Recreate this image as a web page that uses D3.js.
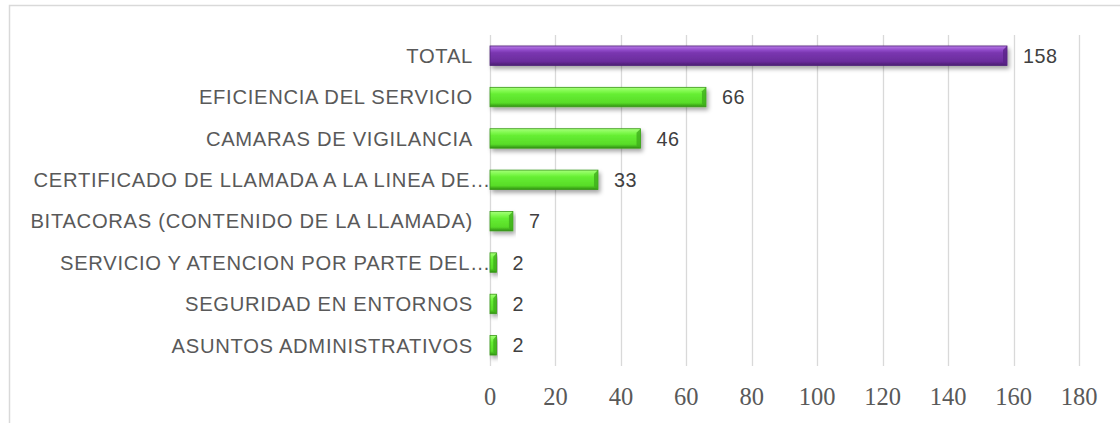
<!DOCTYPE html>
<html lang="es">
<head>
    <meta charset="UTF-8">
    <title>Quejas por tema</title>
    <script src="https://d3js.org/d3.v7.min.js"></script>
    <style>
        body { margin: 0; background: #fff; }
        .grid line { stroke: #d9d9d9; stroke-width: 1.3px; }
        .cat { font-family: "Liberation Sans", Arial, sans-serif; font-size: 20.2px; letter-spacing: 0.7px; fill: #595959; }
        .val { font-family: "Liberation Sans", Arial, sans-serif; font-size: 19.8px; letter-spacing: 0.5px; fill: #404040; }
        .tick-label { font-family: "Liberation Serif", serif; font-size: 24.5px; fill: #595959; }
    </style>
</head>
<body>
<div id="chart"></div>
<script>
// data
const categories = [
    "TOTAL",
    "EFICIENCIA DEL SERVICIO",
    "CAMARAS DE VIGILANCIA",
    "CERTIFICADO DE LLAMADA A LA LINEA DE…",
    "BITACORAS (CONTENIDO DE LA LLAMADA)",
    "SERVICIO Y ATENCION POR PARTE DEL…",
    "SEGURIDAD EN ENTORNOS",
    "ASUNTOS ADMINISTRATIVOS"
];
const values = [158, 66, 46, 33, 7, 2, 2, 2];
const xTicks = [0, 20, 40, 60, 80, 100, 120, 140, 160, 180];

const width = 1120, height = 423;
const svg = d3.select("#chart").append("svg")
    .attr("width", width)
    .attr("height", height);

const defs = svg.append("defs");

// bevel-ish gradients, one per colour
function bevel(id, stops) {
    const g = defs.append("linearGradient")
        .attr("id", id)
        .attr("x1", 0).attr("y1", 0).attr("x2", 0).attr("y2", 1);
    stops.forEach(s => g.append("stop").attr("offset", s[0]).attr("stop-color", s[1]));
}
bevel("gPurple", [[0, "#b77be6"], [0.22, "#8f48c8"], [0.35, "#7a36b0"], [0.8, "#6a2c9c"], [1, "#4a1d70"]]);
bevel("gGreen", [[0, "#a6ff7a"], [0.22, "#7cf84a"], [0.35, "#66ee33"], [0.8, "#58dc28"], [1, "#2f8f12"]]);

const shadow = defs.append("filter").attr("id", "shadow")
    .attr("x", "-5%").attr("y", "-30%").attr("width", "115%").attr("height", "190%");
shadow.append("feDropShadow")
    .attr("dx", 2).attr("dy", 3).attr("stdDeviation", 2.2)
    .attr("flood-color", "#000").attr("flood-opacity", 0.35);

// chart frame (runs off the right and bottom edges)
svg.append("rect")
    .attr("x", 9.5).attr("y", 5.5)
    .attr("width", 1300).attr("height", 600)
    .attr("fill", "none")
    .attr("stroke", "#d9d9d9")
    .attr("stroke-width", 1.5);

const x = d3.scaleLinear().domain([0, 180]).range([490, 1079]);
const y = d3.scaleBand().domain(categories).range([35, 366]).paddingInner(0.53).paddingOuter(0.265);

// vertical gridlines
svg.append("g").attr("class", "grid")
    .selectAll("line")
    .data(xTicks)
    .enter().append("line")
    .attr("x1", d => Math.round(x(d)) + 0.5)
    .attr("x2", d => Math.round(x(d)) + 0.5)
    .attr("y1", 35)
    .attr("y2", 366);

// x tick labels
svg.append("g")
    .selectAll("text")
    .data(xTicks)
    .enter().append("text")
    .attr("class", "tick-label")
    .attr("x", d => x(d))
    .attr("y", 405)
    .attr("text-anchor", "middle")
    .text(d => d);

const rows = categories.map((c, i) => ({ cat: c, val: values[i], total: i === 0 }));

// bars
const bars = svg.append("g").selectAll("g")
    .data(rows)
    .enter().append("g");

bars.append("rect")
    .attr("x", x(0))
    .attr("y", d => y(d.cat))
    .attr("width", d => x(d.val) - x(0))
    .attr("height", y.bandwidth())
    .attr("fill", d => d.total ? "url(#gPurple)" : "url(#gGreen)")
    .attr("stroke", d => d.total ? "#4e2178" : "#3a9a18")
    .attr("stroke-width", 0.8)
    .attr("filter", "url(#shadow)");

// darker end cap for the bevelled look
bars.append("path")
    .attr("d", d => {
        const x1 = x(d.val), y0 = y(d.cat), h = y.bandwidth();
        const w = Math.min(4, (x1 - x(0)) / 2);
        return `M${x1},${y0} L${x1 - w},${y0 + 4} L${x1 - w},${y0 + h - 3} L${x1},${y0 + h} Z`;
    })
    .attr("fill", d => d.total ? "#5a2388" : "#3fae1c")
    .attr("opacity", 0.8);

// value labels
bars.append("text")
    .attr("class", "val")
    .attr("x", d => x(d.val) + 16)
    .attr("y", d => y(d.cat) + y.bandwidth() / 2)
    .attr("dy", "0.36em")
    .text(d => d.val);

// category labels (Excel pushes the truncated ones up against the axis)
svg.append("g").selectAll("text")
    .data(categories)
    .enter().append("text")
    .attr("class", "cat")
    .attr("x", d => d.endsWith("…") ? 491 : 473)
    .attr("y", d => y(d) + y.bandwidth() / 2)
    .attr("dy", "0.36em")
    .attr("text-anchor", "end")
    .text(d => d);
</script>
</body>
</html>
